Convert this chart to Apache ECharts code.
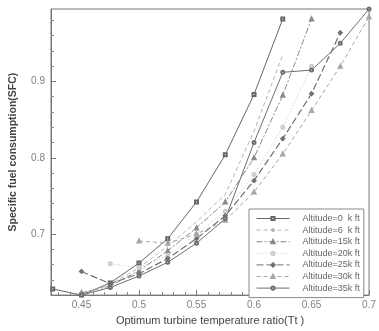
<!DOCTYPE html>
<html><head><meta charset="utf-8">
<script src="https://cdn.jsdelivr.net/npm/echarts@6/dist/echarts.min.js"></script>
<style>html,body{margin:0;padding:0;background:#fff}#c{width:379px;height:331px}</style>
</head><body><div id="c"></div>
<script>
const seriesNames = ['Altitude=0  k ft','Altitude=6  k ft','Altitude=15k ft','Altitude=20k ft','Altitude=25k ft','Altitude=30k ft','Altitude=35k ft'];
const alt0X  = [0.425, 0.45, 0.475, 0.5, 0.525, 0.55, 0.575, 0.6, 0.625];
const alt0Y  = [0.628, 0.620, 0.636, 0.662, 0.694, 0.742, 0.804, 0.883, 0.982];
const alt6X  = [0.45, 0.475, 0.5, 0.525, 0.55, 0.575, 0.6, 0.625];
const alt6Y  = [0.622, 0.634, 0.656, 0.684, 0.716, 0.752, 0.835, 0.935];
const alt15X = [0.45, 0.475, 0.5, 0.525, 0.55, 0.575, 0.6, 0.625, 0.65];
const alt15Y = [0.623, 0.632, 0.652, 0.678, 0.708, 0.742, 0.800, 0.882, 0.982];
const alt20X = [0.475, 0.5, 0.525, 0.55, 0.575, 0.6, 0.625, 0.65];
const alt20Y = [0.661, 0.656, 0.672, 0.700, 0.730, 0.778, 0.840, 0.920];
const alt25X = [0.45, 0.475, 0.5, 0.525, 0.55, 0.575, 0.6, 0.625, 0.65, 0.675];
const alt25Y = [0.651, 0.635, 0.648, 0.668, 0.694, 0.724, 0.770, 0.825, 0.884, 0.964];
const alt30X = [0.5, 0.525, 0.55, 0.575, 0.6, 0.625, 0.65, 0.675, 0.7];
const alt30Y = [0.691, 0.688, 0.700, 0.718, 0.755, 0.805, 0.862, 0.920, 0.985];
const alt35X = [0.45, 0.475, 0.5, 0.525, 0.55, 0.575, 0.6, 0.625, 0.65, 0.675, 0.7];
const alt35Y = [0.620, 0.630, 0.645, 0.663, 0.688, 0.720, 0.820, 0.912, 0.915, 0.950, 0.995];
const xTickLabels = [0.45, 0.5, 0.55, 0.6, 0.65, 0.7];
const xMinorTicks = [0.43,0.44,0.46,0.47,0.48,0.49,0.51,0.52,0.53,0.54,0.56,0.57,0.58,0.59,0.61,0.62,0.63,0.64,0.66,0.67,0.68,0.69];
const yTickLabels = [0.7, 0.8, 0.9];
const yMinorTicks = [0.64,0.66,0.68,0.72,0.74,0.76,0.78,0.82,0.84,0.86,0.88,0.92,0.94,0.96,0.98];

const allX = [alt0X, alt6X, alt15X, alt20X, alt25X, alt30X, alt35X];
const allY = [alt0Y, alt6Y, alt15Y, alt20Y, alt25Y, alt30Y, alt35Y];
const styles = [
  {color:'#666', type:'solid', width:1, symbol:'emptyRect', size:3},
  {color:'#b4b4b4', type:[4,3], width:1, symbol:'none', size:3},
  {color:'#8a8a8a', type:[6,2,2,2], width:1, symbol:'emptyTriangle', size:3},
  {color:'#cacaca', type:[1,2], width:1, symbol:'emptyCircle', size:3},
  {color:'#707070', type:[7,3], width:1.2, symbol:'emptyDiamond', size:3},
  {color:'#a6a6a6', type:[4,3], width:1, symbol:'emptyTriangle', size:3},
  {color:'#6e6e6e', type:'solid', width:1, symbol:'emptyCircle', size:3}
];

const font = 'Arial, "Liberation Sans", sans-serif';
const series = seriesNames.map((n, i) => ({
  name: n, type: 'line', xAxisIndex: 0, yAxisIndex: 0,
  data: allX[i].map((x, j) => [x, allY[i][j]]),
  symbol: styles[i].symbol, symbolSize: styles[i].size,
  lineStyle: {color: styles[i].color, type: styles[i].type, width: styles[i].width},
  itemStyle: {color: styles[i].color, borderColor: styles[i].color, borderWidth: 0.8},
  animation: false, z: 2
}));

const chart = echarts.init(document.getElementById('c'), null, {renderer: 'canvas'});
chart.setOption({
  animation: false,
  backgroundColor: '#fff',
  grid: {left: 50, top: 9, right: 8, bottom: 35, show: true, borderColor: '#777', borderWidth: 1, backgroundColor: 'transparent'},
  legend: {
    orient: 'vertical', left: 249, top: 209,
    itemWidth: 33, itemHeight: 4, itemGap: 2.6,
    padding: [5, 4, 5, 7],
    borderColor: '#888', borderWidth: 1, backgroundColor: '#fff',
    lineStyle: {width: 1},
    itemStyle: {borderWidth: 0.8},
    textStyle: {fontSize: 9, color: '#666', fontFamily: font, lineHeight: 9, padding: [0, 0, 0, 8]},
    data: seriesNames
  },
  xAxis: [{
    type: 'value', min: 0.4235, max: 0.7,
    name: 'Optimum turbine temperature ratio(Tt )', nameLocation: 'middle', nameGap: 19,
    nameTextStyle: {fontSize: 11, color: '#444', fontFamily: font},
    axisLine: {show: true, lineStyle: {color: '#777'}},
    axisTick: {show: true, inside: true, length: 5, customValues: xTickLabels, lineStyle: {color: '#777'}},
    axisLabel: {show: true, customValues: xTickLabels, fontSize: 10, color: '#808080', margin: 5, fontFamily: font},
    splitLine: {show: false}
  }, {
    type: 'value', min: 0.4235, max: 0.7, position: 'bottom', gridIndex: 0,
    axisLine: {show: false},
    axisTick: {show: true, inside: true, length: 3, customValues: xMinorTicks, lineStyle: {color: '#888'}},
    axisLabel: {show: false},
    splitLine: {show: false}
  }],
  yAxis: [{
    type: 'value', min: 0.62, max: 0.995,
    name: 'Specific fuel consumption(SFC)', nameLocation: 'middle', nameGap: 32, nameRotate: 90,
    nameTextStyle: {fontSize: 10.5, fontWeight: 'bold', color: '#444', fontFamily: font},
    axisLine: {show: true, lineStyle: {color: '#777'}},
    axisTick: {show: true, inside: true, length: 5, customValues: yTickLabels, lineStyle: {color: '#777'}},
    axisLabel: {show: true, customValues: yTickLabels, fontSize: 10, color: '#808080', margin: 6, fontFamily: font},
    splitLine: {show: false}
  }, {
    type: 'value', min: 0.62, max: 0.995, position: 'left', gridIndex: 0,
    axisLine: {show: false},
    axisTick: {show: true, inside: true, length: 3, customValues: yMinorTicks, lineStyle: {color: '#888'}},
    axisLabel: {show: false},
    splitLine: {show: false}
  }],
  series: series
});
</script>
</body></html>
